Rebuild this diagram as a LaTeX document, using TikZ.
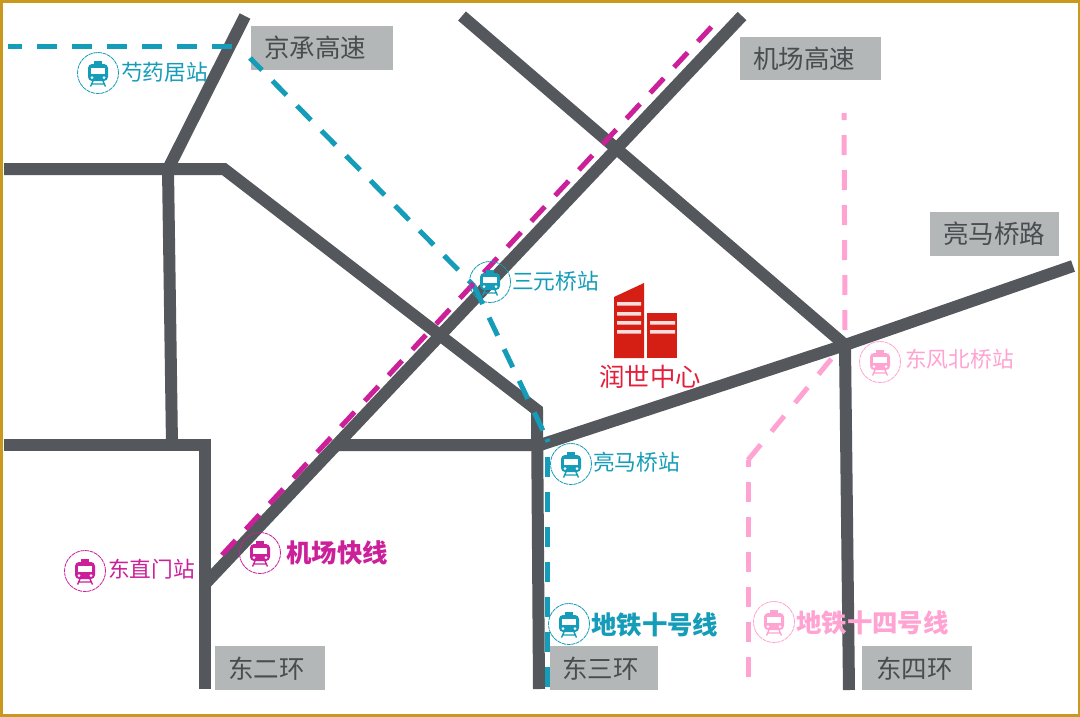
\documentclass[tikz,border=0pt]{standalone}
\usepackage{fontspec}
\newfontfamily\cjk{Noto Sans CJK SC}
\definecolor{road}{HTML}{54575B}
\definecolor{tagbg}{HTML}{B4B7B8}
\definecolor{tagfg}{HTML}{4A4D50}
\definecolor{gold}{HTML}{C8991C}
\definecolor{teal}{HTML}{149CB8}
\definecolor{mag}{HTML}{CC1F9A}
\definecolor{pinkl}{HTML}{FFA3D2}
\definecolor{redb}{HTML}{D61F14}
\definecolor{redt}{HTML}{E3203C}
\tikzset{
  roadline/.style={draw=road,line width=12pt,line join=miter,miter limit=2},
  metro/.style={line width=5pt,dash pattern=on 20pt off 15pt},
  tag/.style={fill=tagbg,text=tagfg,inner sep=0pt,font=\cjk\fontsize{25.5}{25.5}\selectfont,anchor=north west,align=left},
  stn/.style={font=\cjk\fontsize{21.7}{21.7}\selectfont,inner sep=0pt,anchor=west},
  linename/.style={font=\cjk\bfseries\fontsize{25.4}{25.4}\selectfont,inner sep=0pt,anchor=west},
  ring/.style={circle,draw,minimum size=41pt,inner sep=0pt,line width=0.8pt,dash pattern=on 4pt off 0.7pt},
  pics/trainicon/.style={code={
    \fill[#1,rounded corners=4pt] (-10,-9) rectangle (10,8);
    \fill[#1] (-4,-12.5) rectangle (4,-9);
    \fill[white] (-7,-5.5) rectangle (7,0.5);
    \fill[white] (-6,4.5) circle (1.5) (6,4.5) circle (1.5);
    \draw[#1,line width=1.4pt] (-5,8) -- (-7.5,13.5) (5,8) -- (7.5,13.5) (-6.5,11) -- (6.5,11);
  }}
}
\begin{document}
\begin{tikzpicture}[x=1pt,y=-1pt]
\useasboundingbox (0,0) rectangle (1080,716);
\fill[white] (0,0) rectangle (1080,716);
\draw[gold,line width=3pt] (1,1) rectangle (1079,715);

% road junctions
\coordinate (a1) at (4,169);
\coordinate (a2) at (168,169);
\coordinate (a3) at (224,169);
\coordinate (a4) at (537,410);
\coordinate (a5) at (539,689);
\coordinate (b1) at (245,16);
\coordinate (b2) at (172,445);
\coordinate (c1) at (4,445);
\coordinate (c2) at (205,445);
\coordinate (c3) at (205,689);
\coordinate (d1) at (742,16);
\coordinate (d2) at (205,584);
\coordinate (e1) at (462,16);
\coordinate (e2) at (845,345);
\coordinate (e3) at (849,690);
\coordinate (f1) at (1073,266);
\coordinate (f2) at (540,445);
\coordinate (f3) at (336,445);

% metro way points
\coordinate (t1) at (8,46);
\coordinate (t2) at (232,46);
\coordinate (t3) at (250,58);
\coordinate (t4) at (474,286);
\coordinate (t5) at (546,437);
\coordinate (t5b) at (547,439);
\coordinate (t5c) at (548,442);
\coordinate (t6) at (547,457);
\coordinate (t7) at (547,687);
\coordinate (m1) at (222,555);
\coordinate (m2) at (716,22);
\coordinate (p1) at (844,113);
\coordinate (p2) at (845,331);
\coordinate (p3) at (832,358);
\coordinate (p4) at (748,460);
\coordinate (p5) at (748,678);

% roads
\draw[roadline] (a1) -- (a2) -- (a3) -- (a4) -- (a5);
\draw[roadline] (b1) -- (a2) -- (b2);
\draw[roadline] (c1) -- (c2) -- (c3);
\draw[roadline] (d1) -- (d2);
\draw[roadline] (e1) -- (e2) -- (e3);
\draw[roadline] (f1) -- (e2) -- (f2) -- (f3);

% road tags
\node[tag,minimum width=142pt,minimum height=44pt,text width=116pt] (jc) at (251,26) {京承高速};
\node[tag,minimum width=141pt,minimum height=43pt,text width=115pt] (jch) at (740,37) {机场高速};
\node[tag,minimum width=129pt,minimum height=44pt,text width=103pt] (lmq) at (930,212) {亮马桥路};
\node[tag,minimum width=110pt,minimum height=44pt,text width=84pt] (e2r) at (215,646) {东二环};
\node[tag,minimum width=108pt,minimum height=44pt,text width=84pt] (e3r) at (550,646) {东三环};
\node[tag,minimum width=110pt,minimum height=44pt,text width=82pt] (e4r) at (862,646) {东四环};

% metro lines
\draw[metro,teal,dash phase=6pt] (t1) -- (t2);
\draw[metro,teal,dash phase=3pt] (t3) -- (t4);
\draw[metro,teal] (t4) -- (t5);
\draw[teal,line width=5pt] (t5b) -- (t5c);
\draw[metro,teal] (t6) -- (t7);
\draw[metro,mag] (m1) -- (m2);
\draw[metro,pinkl,dash phase=13pt] (p1) -- (p2);
\draw[metro,pinkl,dash pattern=on 20pt off 17pt] (p4) -- (p3);
\draw[metro,pinkl,dash phase=13pt] (p4) -- (p5);

% stations
\node[ring,draw=teal] (s1) at (98,73) {};
\pic at (s1) {trainicon=teal};
\node[stn,text=teal] (s1t) at (121,72) {芍药居站};
\node[ring,draw=teal] (s2) at (490,282) {};
\pic at (s2) {trainicon=teal};
\node[stn,text=teal] (s2t) at (512,281) {三元桥站};
\node[ring,draw=teal] (s3) at (571,464) {};
\pic at (s3) {trainicon=teal};
\node[stn,text=teal] (s3t) at (593,462) {亮马桥站};
\node[ring,draw=pinkl] (s4) at (880,362) {};
\pic at (s4) {trainicon=pinkl};
\node[stn,text=pinkl] (s4t) at (905,359) {东风北桥站};
\node[ring,draw=mag] (s5) at (85,571) {};
\pic at (s5) {trainicon=mag};
\node[stn,text=mag] (s5t) at (108,569) {东直门站};
\node[ring,draw=mag] (s6) at (260,553) {};
\pic at (s6) {trainicon=mag};
\node[linename,text=mag] (s6t) at (286,553) {机场快线};
\node[ring,draw=teal] (s7) at (569,624) {};
\pic at (s7) {trainicon=teal};
\node[linename,text=teal] (s7t) at (591,625) {地铁十号线};
\node[ring,draw=pinkl] (s8) at (774,622) {};
\pic at (s8) {trainicon=pinkl};
\node[linename,text=pinkl] (s8t) at (796,623) {地铁十四号线};

% building
\fill[redb] (614,297) -- (644,283) -- (644,358) -- (614,358) -- cycle;
\fill[redb] (647,313) rectangle (677,358);
\fill[white!85!redb] (617,302) rectangle (641,305.5)
  (617,312) rectangle (641,315.5)
  (617,321) rectangle (641,324.5)
  (617,330) rectangle (641,333.5)
  (650,321) rectangle (675,324.5)
  (650,330) rectangle (675,333.5);
\node[inner sep=0pt,text=redt,font=\cjk\fontsize{25.4}{25.4}\selectfont] (name) at (650,377) {润世中心};
\end{tikzpicture}
\end{document}
